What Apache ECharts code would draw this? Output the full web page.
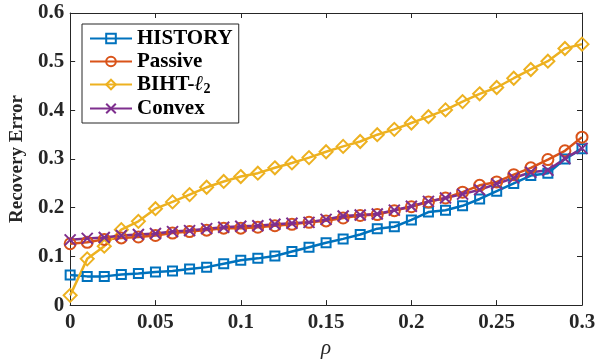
<!DOCTYPE html>
<html>
<head>
<meta charset="utf-8">
<script src="https://cdn.jsdelivr.net/npm/echarts@6/dist/echarts.min.js"></script>
<style>html,body{margin:0;padding:0;background:#fff}#c{width:607px;height:364px}</style>
</head>
<body>
<div id="c"></div>
<script>
const rho = [0,0.01,0.02,0.03,0.04,0.05,0.06,0.07,0.08,0.09,0.1,0.11,0.12,0.13,0.14,0.15,0.16,0.17,0.18,0.19,0.2,0.21,0.22,0.23,0.24,0.25,0.26,0.27,0.28,0.29,0.3];
const historyVals = [0.062,0.059,0.059,0.063,0.065,0.068,0.070,0.074,0.078,0.085,0.092,0.096,0.101,0.110,0.119,0.128,0.136,0.145,0.157,0.161,0.175,0.191,0.195,0.204,0.218,0.234,0.250,0.266,0.271,0.300,0.321];
const passiveVals = [0.126,0.129,0.135,0.138,0.140,0.143,0.148,0.151,0.154,0.158,0.158,0.160,0.163,0.166,0.170,0.173,0.179,0.184,0.186,0.194,0.202,0.212,0.220,0.232,0.246,0.253,0.268,0.282,0.299,0.317,0.345];
const bihtVals = [0.020,0.095,0.121,0.155,0.172,0.198,0.212,0.227,0.242,0.254,0.264,0.271,0.282,0.292,0.303,0.315,0.326,0.336,0.350,0.361,0.374,0.387,0.401,0.418,0.434,0.447,0.466,0.484,0.501,0.527,0.536];
const convexVals = [0.134,0.137,0.139,0.143,0.145,0.147,0.151,0.153,0.157,0.160,0.162,0.163,0.166,0.168,0.170,0.176,0.183,0.185,0.187,0.195,0.203,0.213,0.220,0.228,0.237,0.249,0.261,0.273,0.277,0.301,0.322];
const seriesNames = ['HISTORY','Passive','BIHT-\u2113\u2082','Convex'];
const colors = ['#0072BD','#D95319','#EDB120','#7E2F8E'];
const symbols = ['rect','circle','diamond','path://M0,0L10,10M10,0L0,10'];
const symbolSizes = [9,11,13,11];
const allVals = [historyVals, passiveVals, bihtVals, convexVals];

const font = '"Liberation Serif","Times New Roman",serif';
const chart = echarts.init(document.getElementById('c'), null, {renderer:'canvas'});

const series = allVals.map((vals, i) => ({
  name: seriesNames[i],
  type: 'line',
  xAxisIndex: 0, yAxisIndex: 0,
  data: rho.map((x, k) => [x, vals[k]]),
  symbol: symbols[i],
  symbolSize: symbolSizes[i],
  showAllSymbol: true,
  color: colors[i],
  lineStyle: {color: colors[i], width: 2.5},
  itemStyle: {color: 'rgba(255,255,255,0)', borderColor: colors[i], borderWidth: 2},
  emphasis: {disabled: true},
  animation: false
}));

const axisLineStyle = {color: '#262626', width: 1};
chart.setOption({
  animation: false,
  backgroundColor: '#fff',
  grid: {left: 69, right: 25, top: 13, bottom: 58},
  legend: {
    orient: 'vertical', left: 82, top: 24,
    itemWidth: 42, itemHeight: 12, itemGap: 2,
    padding: [4, 6, 4, 7],
    borderColor: '#262626', borderWidth: 1, backgroundColor: '#fff',
    data: seriesNames,
    formatter: function(n){
      if (n.indexOf('BIHT') === 0) return '{a|BIHT-}{l|\u2113}{s|2}';
      return '{a|' + n + '}';
    },
    textStyle: {
      fontFamily: font, fontSize: 21, fontWeight: 'bold', color: '#000',
      rich: {
        a: {fontFamily: font, fontSize: 21, fontWeight: 'bold', color: '#000'},
        l: {fontFamily: font, fontSize: 21, fontStyle: 'italic', color: '#000'},
        s: {fontFamily: font, fontSize: 14, color: '#000', padding: [9,0,0,0]}
      }
    }
  },
  xAxis: [{
    type: 'value', min: 0, max: 0.3, interval: 0.05,
    name: '\u03C1', nameLocation: 'middle', nameGap: 28,
    nameTextStyle: {fontFamily: font, fontSize: 21, fontStyle: 'italic', color: '#262626'},
    axisLine: {show: true, lineStyle: axisLineStyle},
    axisTick: {show: true, inside: true, length: 5, lineStyle: axisLineStyle},
    axisLabel: {fontFamily: font, fontSize: 21, fontWeight: 'bold', color: '#262626', margin: 7,
      formatter: v => String(Math.round(v*100)/100)},
    splitLine: {show: false}
  },{
    type: 'value', position: 'top', min: 0, max: 0.3, interval: 0.05,
    axisLine: {show: true, onZero: false, lineStyle: axisLineStyle},
    axisTick: {show: true, inside: true, length: 5, lineStyle: axisLineStyle},
    axisLabel: {show: false}, splitLine: {show: false}
  }],
  yAxis: [{
    type: 'value', min: 0, max: 0.6, interval: 0.1,
    name: 'Recovery Error', nameLocation: 'middle', nameGap: 36,
    nameTextStyle: {fontFamily: font, fontSize: 19, fontWeight: 'bold', color: '#262626'},
    axisLine: {show: true, lineStyle: axisLineStyle},
    axisTick: {show: true, inside: true, length: 5, lineStyle: axisLineStyle},
    axisLabel: {fontFamily: font, fontSize: 21, fontWeight: 'bold', color: '#262626', margin: 6,
      formatter: v => String(Math.round(v*10)/10)},
    splitLine: {show: false}
  },{
    type: 'value', position: 'right', min: 0, max: 0.6, interval: 0.1,
    axisLine: {show: true, onZero: false, lineStyle: axisLineStyle},
    axisTick: {show: true, inside: true, length: 5, lineStyle: axisLineStyle},
    axisLabel: {show: false}, splitLine: {show: false}
  }],
  series: series
});
</script>
</body>
</html>
